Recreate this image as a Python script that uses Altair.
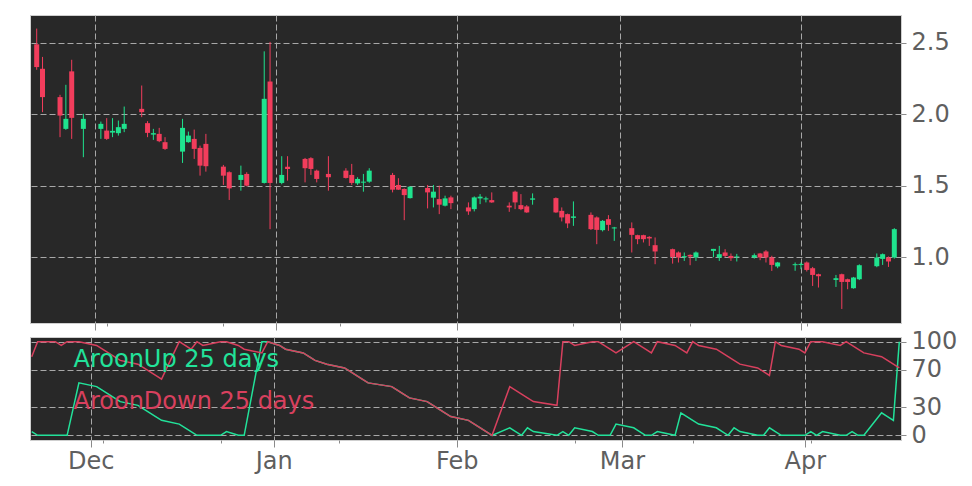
import altair as alt
import pandas as pd

# ---------------- data ----------------
dates = [
    "2024-11-21", "2024-11-22", "2024-11-25", "2024-11-26", "2024-11-27", "2024-11-29",
    "2024-12-02", "2024-12-03", "2024-12-04", "2024-12-05", "2024-12-06",
    "2024-12-09", "2024-12-10", "2024-12-11", "2024-12-12", "2024-12-13",
    "2024-12-16", "2024-12-17", "2024-12-18", "2024-12-19", "2024-12-20",
    "2024-12-23", "2024-12-24", "2024-12-26", "2024-12-27",
    "2024-12-30", "2024-12-31", "2025-01-02", "2025-01-03",
    "2025-01-06", "2025-01-07", "2025-01-08", "2025-01-10",
    "2025-01-13", "2025-01-14", "2025-01-15", "2025-01-16", "2025-01-17",
    "2025-01-21", "2025-01-22", "2025-01-23", "2025-01-24",
    "2025-01-27", "2025-01-28", "2025-01-29", "2025-01-30", "2025-01-31",
    "2025-02-03", "2025-02-04", "2025-02-05", "2025-02-06", "2025-02-07",
    "2025-02-10", "2025-02-11", "2025-02-12", "2025-02-13", "2025-02-14",
    "2025-02-18", "2025-02-19", "2025-02-20", "2025-02-21",
    "2025-02-24", "2025-02-25", "2025-02-26", "2025-02-27", "2025-02-28",
    "2025-03-03", "2025-03-04", "2025-03-05", "2025-03-06", "2025-03-07",
    "2025-03-10", "2025-03-11", "2025-03-12", "2025-03-13", "2025-03-14",
    "2025-03-17", "2025-03-18", "2025-03-19", "2025-03-20", "2025-03-21",
    "2025-03-24", "2025-03-25", "2025-03-26", "2025-03-27", "2025-03-28",
    "2025-03-31", "2025-04-01", "2025-04-02", "2025-04-03", "2025-04-04",
    "2025-04-07", "2025-04-08", "2025-04-09", "2025-04-10", "2025-04-11",
    "2025-04-14", "2025-04-15", "2025-04-16", "2025-04-17",
]
opens = [
    2.488, 2.317, 2.119, 1.897, 2.299, 1.897,
    1.897, 1.885, 1.871, 1.867, 1.897,
    2.037, 1.937, 1.857, 1.862, 1.804,
    1.738, 1.804, 1.827, 1.764, 1.792,
    1.633, 1.594, 1.540, 1.582,
    1.519, 2.228, 1.519, 1.633,
    1.687, 1.692, 1.605, 1.582,
    1.605, 1.575, 1.516, 1.521, 1.528,
    1.575, 1.505, 1.477, 1.413,
    1.484, 1.416, 1.406, 1.360, 1.418,
    1.348, 1.336, 1.411, 1.404, 1.399,
    1.360, 1.458, 1.364, 1.355, 1.402,
    1.413, 1.324, 1.301, 1.275,
    1.296, 1.278, 1.189, 1.266, 1.201,
    1.203, 1.154, 1.154, 1.142, 1.084,
    1.056, 1.033, 1.000, 1.016, 0.998,
    1.044, 0.998, 1.033, 1.009, 1.000,
    0.998, 1.026, 1.040, 0.998, 0.935,
    0.944, 0.946, 0.963, 0.923, 0.881,
    0.841, 0.881, 0.846, 0.783, 0.846,
    0.937, 0.988, 0.998, 0.998,
]
highs = [
    2.598, 2.400, 2.135, 2.205, 2.380, 2.002,
    1.948, 1.972, 1.972, 1.955, 2.053,
    2.200, 1.951, 1.897, 1.904, 1.839,
    1.967, 1.878, 1.892, 1.780, 1.862,
    1.645, 1.600, 1.640, 1.594,
    2.439, 2.505, 1.706, 1.706,
    1.694, 1.699, 1.612, 1.706,
    1.622, 1.652, 1.559, 1.582, 1.622,
    1.589, 1.552, 1.481, 1.493,
    1.505, 1.505, 1.500, 1.430, 1.430,
    1.383, 1.425, 1.441, 1.423, 1.453,
    1.383, 1.465, 1.441, 1.364, 1.446,
    1.418, 1.348, 1.305, 1.390,
    1.313, 1.285, 1.260, 1.294, 1.212,
    1.243, 1.157, 1.157, 1.147, 1.138,
    1.060, 1.040, 1.033, 1.020, 1.040,
    1.058, 1.079, 1.056, 1.026, 1.023,
    1.026, 1.030, 1.049, 1.010, 0.967,
    0.963, 0.963, 0.970, 0.932, 0.885,
    0.876, 0.885, 0.850, 0.862, 0.950,
    1.026, 1.026, 1.005, 1.203,
]
lows = [
    2.310, 2.014, 1.839, 1.890, 1.827, 1.699,
    1.827, 1.820, 1.839, 1.850, 1.874,
    1.979, 1.839, 1.820, 1.804, 1.750,
    1.659, 1.800, 1.687, 1.570, 1.598,
    1.505, 1.400, 1.465, 1.495,
    1.515, 1.196, 1.510, 1.535,
    1.523, 1.575, 1.523, 1.465,
    1.550, 1.505, 1.505, 1.458, 1.520,
    1.453, 1.470, 1.259, 1.410,
    1.341, 1.348, 1.301, 1.355, 1.336,
    1.296, 1.320, 1.371, 1.383, 1.380,
    1.317, 1.336, 1.329, 1.310, 1.367,
    1.310, 1.250, 1.203, 1.219,
    1.190, 1.091, 1.180, 1.184, 1.114,
    1.033, 1.091, 1.103, 1.079, 0.951,
    0.955, 0.963, 0.974, 0.944, 0.974,
    1.000, 0.974, 1.000, 0.974, 0.970,
    0.990, 0.979, 0.963, 0.904, 0.923,
    0.905, 0.916, 0.900, 0.799, 0.788,
    0.792, 0.638, 0.776, 0.780, 0.840,
    0.930, 0.946, 0.932, 0.990,
]
closes = [
    2.329, 2.119, 1.990, 1.967, 1.974, 1.967,
    1.932, 1.827, 1.883, 1.909, 1.932,
    2.014, 1.869, 1.867, 1.811, 1.757,
    1.904, 1.850, 1.757, 1.640, 1.636,
    1.570, 1.481, 1.575, 1.500,
    2.107, 1.519, 1.575, 1.617,
    1.622, 1.617, 1.547, 1.559,
    1.554, 1.519, 1.547, 1.528, 1.605,
    1.472, 1.472, 1.434, 1.493,
    1.453, 1.458, 1.367, 1.411, 1.378,
    1.320, 1.418, 1.423, 1.411, 1.383,
    1.348, 1.383, 1.336, 1.313, 1.411,
    1.313, 1.278, 1.236, 1.285,
    1.196, 1.191, 1.254, 1.226, 1.208,
    1.156, 1.126, 1.126, 1.131, 1.040,
    1.002, 0.998, 1.007, 1.005, 1.033,
    1.058, 1.021, 1.009, 0.993, 1.005,
    1.014, 0.998, 0.998, 0.946, 0.963,
    0.951, 0.953, 0.911, 0.876, 0.867,
    0.853, 0.827, 0.827, 0.858, 0.944,
    0.998, 1.021, 0.970, 1.196,
]
aroon_up = [
    4, 0, 0, 0, 0, 56,
    52, 48, 44, 40, 36,
    32, 28, 24, 20, 16,
    12, 8, 4, 0, 0,
    0, 4, 0, 0,
    100, 100, 96, 92,
    88, 84, 80, 76,
    72, 68, 64, 60, 56,
    52, 48, 44, 40,
    36, 32, 28, 24, 20,
    16, 12, 8, 4, 0,
    8, 4, 0, 8, 4,
    0, 4, 0, 8,
    4, 0, 0, 0, 12,
    8, 4, 0, 0, 4,
    0, 24, 20, 16, 12,
    8, 4, 0, 8, 4,
    0, 0, 8, 4, 0,
    0, 0, 4, 0, 4,
    0, 0, 4, 0, 0,
    24, 20, 16, 100,
]
aroon_down = [
    84, 100, 100, 96, 100, 100,
    96, 92, 88, 84, 80,
    76, 72, 68, 64, 60,
    100, 96, 92, 100, 96,
    100, 100, 96, 92,
    88, 100, 96, 92,
    88, 84, 80, 76,
    72, 68, 64, 60, 56,
    52, 48, 44, 40,
    36, 32, 28, 24, 20,
    16, 12, 8, 4, 0,
    52, 48, 44, 40, 36,
    32, 100, 100, 96,
    100, 100, 96, 92, 88,
    100, 96, 92, 88, 100,
    96, 92, 88, 100, 96,
    92, 88, 84, 80, 76,
    72, 68, 64, 100, 96,
    92, 88, 100, 100, 100,
    96, 100, 96, 92, 88,
    84, 80, 76, 72,
]
legend_labels = ["AroonUp 25 days", "AroonDown 25 days"]
price_ticks = [1.0, 1.5, 2.0, 2.5]
aroon_ticks = [0, 30, 70, 100]
month_ticks = ["2024-12-01", "2025-01-01", "2025-02-01", "2025-03-01", "2025-04-01"]
minor_ticks = ["2024-12-03", "2024-12-23", "2025-01-12", "2025-02-21", "2025-03-13", "2025-04-02"]

# ---------------- styling ----------------
GREEN = "#1fe38e"
RED = "#f23d5c"
LINE_RED = "#d8405e"
LINE_GREEN = "#22e29a"
BG = "#282828"
LABEL = "#5f5f5f"
FONT = "DejaVu Sans"
FS = 24
DAY = 86400000


def ms(s):
    return int(pd.Timestamp(s, tz="UTC").timestamp() * 1000)


tick_values = sorted(ms(s) for s in month_ticks + minor_ticks)
x_domain = [ms(dates[0]) - 0.29 * DAY, ms(dates[-1]) + 0.29 * DAY]
is_major = "utcdate(datum.value) == 1"

df = pd.DataFrame({
    "date": dates, "open": opens, "high": highs, "low": lows, "close": closes,
    "up": aroon_up, "down": aroon_down,
})

W = 871


def x_enc(labels):
    return alt.X(
        "date:T",
        scale=alt.Scale(type="utc", domain=x_domain, nice=False),
        axis=alt.Axis(
            values=tick_values,
            labels=labels,
            labelExpr=f"{is_major} ? utcFormat(datum.value, '%b') : ''",
            labelOverlap=False,
            labelFontSize=FS,
            labelColor=LABEL,
            labelFont=FONT,
            labelPadding=2 if labels else 0,
            tickSize={"condition": {"test": is_major, "value": 7}, "value": 3},
            tickColor="#8a8a8a",
            gridOpacity={"condition": {"test": is_major, "value": 1}, "value": 0},
            gridColor="#a8a8a8",
            gridDash=[6, 3],
            domain=False,
            title=None,
        ),
    )


color_cond = alt.condition("datum.close >= datum.open", alt.value(GREEN), alt.value(RED))

price_scale = alt.Scale(domain=[0.54, 2.693], nice=False, zero=False)
price_axis = alt.Axis(
    orient="right", values=price_ticks, format=".1f", title=None, labelOverlap=False,
    labelFontSize=FS, labelColor=LABEL, labelFont=FONT, tickSize=5, labelPadding=5,
    tickColor="#8a8a8a", gridColor="#a8a8a8", gridDash=[6, 3], domain=False,
)

base = alt.Chart(df).encode(x=x_enc(False))
wicks = base.mark_rule(strokeWidth=1, clip=True).encode(
    y=alt.Y("low:Q", scale=price_scale, axis=price_axis),
    y2="high:Q",
    color=color_cond,
)
bodies = base.mark_bar(width=5, clip=True).encode(
    y=alt.Y("open:Q", scale=price_scale, axis=price_axis),
    y2="close:Q",
    color=color_cond,
)
top = alt.layer(wicks, bodies).properties(width=W, height=308)

aroon_scale = alt.Scale(domain=[-5, 105], nice=False, zero=False)
aroon_axis = alt.Axis(
    orient="right", values=aroon_ticks, title=None, labelOverlap=False,
    labelFontSize=FS, labelColor=LABEL, labelFont=FONT, tickSize=5, labelPadding=5,
    tickColor="#8a8a8a", gridColor="#a8a8a8", gridDash=[6, 3], domain=False,
)
bbase = alt.Chart(df).encode(x=x_enc(True))
up_line = bbase.mark_line(color=LINE_GREEN, strokeWidth=1.5, clip=True).encode(
    y=alt.Y("up:Q", scale=aroon_scale, axis=aroon_axis)
)
down_line = bbase.mark_line(color=LINE_RED, strokeWidth=1.5, clip=True).encode(
    y=alt.Y("down:Q", scale=aroon_scale, axis=aroon_axis)
)
up_text = alt.Chart(pd.DataFrame({"t": [legend_labels[0]]})).mark_text(
    align="left", baseline="alphabetic", fontSize=24, font=FONT, color=LINE_GREEN
).encode(text="t:N", x=alt.value(43.5), y=alt.value(30))
down_text = alt.Chart(pd.DataFrame({"t": [legend_labels[1]]})).mark_text(
    align="left", baseline="alphabetic", fontSize=24, font=FONT, color=LINE_RED
).encode(text="t:N", x=alt.value(43.5), y=alt.value(71.5))
bottom = alt.layer(up_line, down_line, up_text, down_text).properties(width=W, height=103)

chart = (
    alt.vconcat(top, bottom, spacing=14, bounds="flush")
    .properties(padding={"left": 21, "top": 6, "right": 5, "bottom": 5})
    .configure_view(fill=BG, stroke="#cfcfcf", strokeWidth=1)
    .configure_axis(gridWidth=1)
)

chart.save("out.html", embed_options={"renderer": "svg", "actions": False})
